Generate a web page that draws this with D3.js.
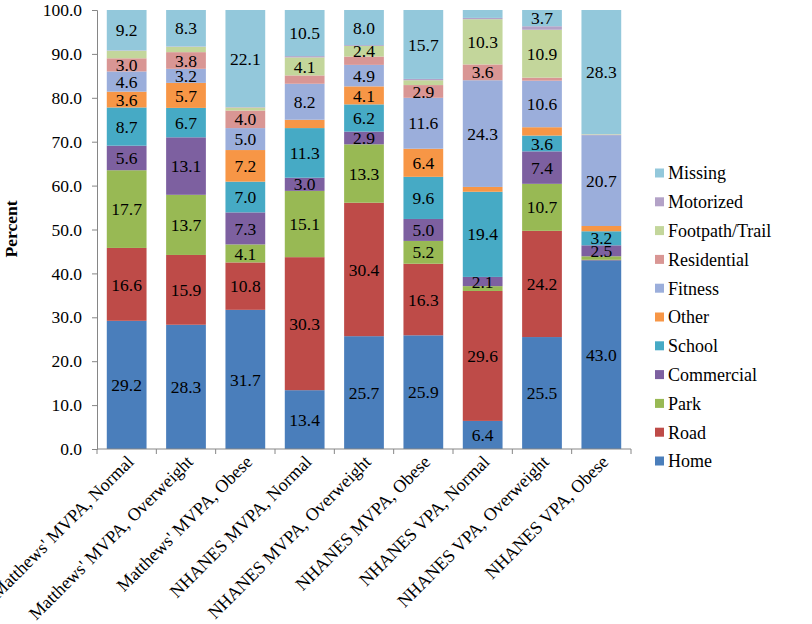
<!DOCTYPE html>
<html>
<head>
<meta charset="utf-8">
<script src="https://cdn.jsdelivr.net/npm/d3@7"></script>
<style>
  body { margin: 0; background: #fff; }
  svg { display: block; }
  svg text { font-family: "Liberation Serif", "Times New Roman", "DejaVu Serif", serif; }
</style>
</head>
<body>
<svg id="chart" width="812" height="624" font-family="Liberation Serif, serif"></svg>
<script>
// ---- data ----
const categories = [
  "Matthews' MVPA, Normal",
  "Matthews' MVPA, Overweight",
  "Matthews' MVPA, Obese",
  "NHANES MVPA, Normal",
  "NHANES MVPA, Overweight",
  "NHANES MVPA, Obese",
  "NHANES VPA, Normal",
  "NHANES VPA, Overweight",
  "NHANES VPA, Obese"
];
const seriesNames = ["Home", "Road", "Park", "Commercial", "School", "Other",
                     "Fitness", "Residential", "Footpath/Trail", "Motorized", "Missing"];
const home        = [29.2, 28.3, 31.7, 13.4, 25.7, 25.9, 6.4, 25.5, 43.0];
const road        = [16.6, 15.9, 10.8, 30.3, 30.4, 16.3, 29.6, 24.2, 0.1];
const park        = [17.7, 13.7, 4.1, 15.1, 13.3, 5.2, 1.1, 10.7, 0.8];
const commercial  = [5.6, 13.1, 7.3, 3.0, 2.9, 5.0, 2.1, 7.4, 2.5];
const school      = [8.7, 6.7, 7.0, 11.3, 6.2, 9.6, 19.4, 3.6, 3.2];
const other       = [3.6, 5.7, 7.2, 1.9, 4.1, 6.4, 1.1, 1.9, 1.2];
const fitness     = [4.6, 3.2, 5.0, 8.2, 4.9, 11.6, 24.3, 10.6, 20.7];
const residential = [3.0, 3.8, 4.0, 1.9, 1.9, 2.9, 3.6, 0.7, 0.1];
const footpath    = [1.7, 1.2, 0.7, 4.1, 2.4, 1.1, 10.3, 10.9, 0.1];
const motorized   = [0.1, 0.1, 0.1, 0.3, 0.2, 0.3, 0.3, 0.8, 0.0];
const missing     = [9.2, 8.3, 22.1, 10.5, 8.0, 15.7, 1.8, 3.7, 28.3];
const yTicks = [0, 10, 20, 30, 40, 50, 60, 70, 80, 90, 100];
const colors = ["#4A7EBB", "#BE4B48", "#98B954", "#7D60A0", "#46AAC5", "#F79646",
                "#9BAEDB", "#D99694", "#C3D69B", "#B3A2C7", "#93C8DB"];

const seriesValues = [home, road, park, commercial, school, other,
                      fitness, residential, footpath, motorized, missing];

const FONT = "Liberation Serif, Times New Roman, serif";

// ---- layout ----
const svg = d3.select("#chart");
const margin = { left: 97, right: 181, top: 10, bottom: 175 };
const W = 812, H = 624;
const x0 = margin.left, x1 = W - margin.right;   // 97 .. 631
const y0 = H - margin.bottom, y1 = margin.top;    // 449 .. 10

const rows = categories.map((c, i) => {
  const r = { cat: c };
  seriesNames.forEach((s, k) => r[s] = seriesValues[k][i]);
  return r;
});
const stack = d3.stack().keys(seriesNames)(rows);

const x = d3.scaleBand().domain(categories).range([x0, x1])
  .paddingInner(0.33).paddingOuter(0.165);
const y = d3.scaleLinear().domain([0, 100]).range([y0, y1]);
const color = d3.scaleOrdinal().domain(seriesNames).range(colors);

// bars
const layers = svg.append("g").selectAll("g").data(stack).join("g")
  .attr("fill", d => color(d.key));
layers.selectAll("rect").data(d => d).join("rect")
  .attr("x", d => x(d.data.cat))
  .attr("width", x.bandwidth())
  .attr("y", d => y(d[1]))
  .attr("height", d => Math.max(0, y(d[0]) - y(d[1])));

// data labels
const lab = svg.append("g").attr("font-size", 17.5).attr("fill", "#000")
  .attr("font-family", FONT).attr("text-anchor", "middle");
stack.forEach(layer => {
  layer.forEach(d => {
    const v = d.data[layer.key];
    if (v >= 2.0) {
      lab.append("text")
        .attr("font-family", FONT)
        .attr("x", x(d.data.cat) + x.bandwidth() / 2)
        .attr("y", (y(d[0]) + y(d[1])) / 2)
        .attr("dy", "0.35em")
        .text(d3.format(".1f")(v));
    }
  });
});

// y axis
const axisColor = "#868686";
const yAxis = d3.axisLeft(y).tickValues(yTicks).tickFormat(d3.format(".1f"))
  .tickSize(5).tickPadding(10);
const gy = svg.append("g").attr("transform", `translate(${x0},0)`).call(yAxis)
  .attr("font-family", FONT);
gy.select(".domain").attr("stroke", axisColor);
gy.selectAll(".tick line").attr("stroke", axisColor);
gy.selectAll(".tick text").attr("font-size", 17.5).attr("fill", "#000")
  .attr("font-family", FONT);

// x axis
const gx = svg.append("g").attr("transform", `translate(0,${y0})`).attr("font-family", FONT);
gx.append("line").attr("x1", x0).attr("x2", x1).attr("y1", 0).attr("y2", 0)
  .attr("stroke", axisColor);
const boundaries = [x0].concat(categories.map(c => x(c) + x.bandwidth() + x.step() * x.paddingInner() / 2));
boundaries[boundaries.length - 1] = x1;
gx.selectAll("line.tk").data(boundaries).join("line").attr("class", "tk")
  .attr("x1", d => d).attr("x2", d => d).attr("y1", 0).attr("y2", 5)
  .attr("stroke", axisColor);
gx.selectAll("text").data(categories).join("text")
  .attr("font-family", FONT)
  .attr("font-size", 18).attr("text-anchor", "end")
  .attr("transform", d => `translate(${x(d) + x.bandwidth() / 2 + 8},${14}) rotate(-45)`)
  .text(d => d);

// y title
svg.append("text").attr("font-size", 17.5).attr("font-weight", "bold")
  .attr("font-family", FONT)
  .attr("text-anchor", "middle")
  .attr("transform", `translate(17,229) rotate(-90)`)
  .text("Percent");

// legend
const legendOrder = seriesNames.slice().reverse();
const lg = svg.append("g").attr("font-family", FONT);
legendOrder.forEach((s, i) => {
  const cy = 173 + i * 28.8;
  lg.append("rect").attr("x", 655).attr("y", cy - 4.5).attr("width", 9).attr("height", 9)
    .attr("fill", color(s));
  lg.append("text").attr("x", 668).attr("y", cy).attr("dy", "0.35em")
    .attr("font-family", FONT)
    .attr("font-size", 18).text(s);
});
</script>
</body>
</html>
